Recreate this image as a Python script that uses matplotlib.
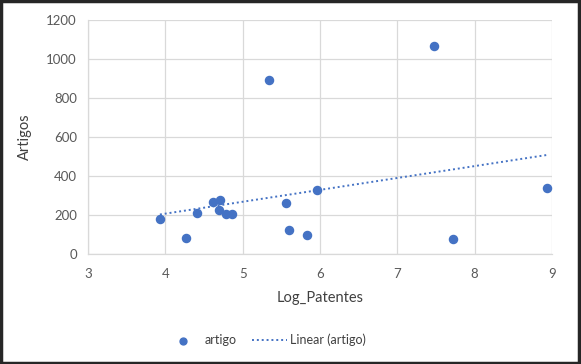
import numpy as np
import matplotlib.pyplot as plt
from matplotlib.patches import Rectangle

# data
log_patentes = [3.93, 4.27, 4.41, 4.62, 4.71, 4.69, 4.79, 4.86, 5.34,
                5.56, 5.60, 5.83, 5.96, 7.48, 7.72, 8.93]
artigos = [177, 80, 208, 269, 275, 228, 203, 203, 894,
           259, 121, 95, 326, 1068, 75, 336]

x_ticks = [3, 4, 5, 6, 7, 8, 9]
y_ticks = [0, 200, 400, 600, 800, 1000, 1200]

blue = '#4472C4'
grid = '#D9D9D9'
txt = '#595959'

plt.rcParams['font.family'] = ['Lato', 'DejaVu Sans']

fig = plt.figure(figsize=(5.81, 3.64), dpi=100)
ax = fig.add_axes([88/581, 1-254/364, (552-88)/581, (254-20)/364])

x = np.array(log_patentes)
y = np.array(artigos)
ax.scatter(x, y, s=34, color=blue, zorder=3, label='artigo')

# linear trendline
m, b = np.polyfit(x, y, 1)
xt = np.array([x.min(), x.max()])
ax.plot(xt, m*xt + b, color=blue, lw=1.4, ls=(0, (1, 1.5)), zorder=2,
        label='Linear (artigo)')

ax.set_xlim(3, 9)
ax.set_ylim(0, 1200)
ax.set_xticks(x_ticks)
ax.set_yticks(y_ticks)
ax.grid(True, color=grid, lw=0.9)
ax.set_axisbelow(True)
for s in ax.spines.values():
    s.set_color(grid)
    s.set_linewidth(0.9)
ax.spines['top'].set_visible(False)
ax.spines['right'].set_visible(False)
ax.tick_params(length=0, labelsize=9.5, labelcolor=txt, pad=8)
ax.tick_params(axis='x', pad=10)

ax.set_xlabel('Log_Patentes', fontsize=10.5, color='#404040', labelpad=8)
ax.set_ylabel('Artigos', fontsize=10.5, color='#404040', labelpad=10)

fig.legend(loc='center', bbox_to_anchor=(266/581, 1-340/364), ncol=2,
           frameon=False, fontsize=9, labelcolor='#404040',
           handlelength=2.8, handletextpad=0.3, columnspacing=1.2,
           markerscale=0.85)

# dark frame around the chart
fig.patches.append(Rectangle((0.002, 0.003), 0.995, 0.993, transform=fig.transFigure,
                             fill=False, edgecolor='#262626', lw=2.5))

plt.savefig('out.png', dpi=100)
